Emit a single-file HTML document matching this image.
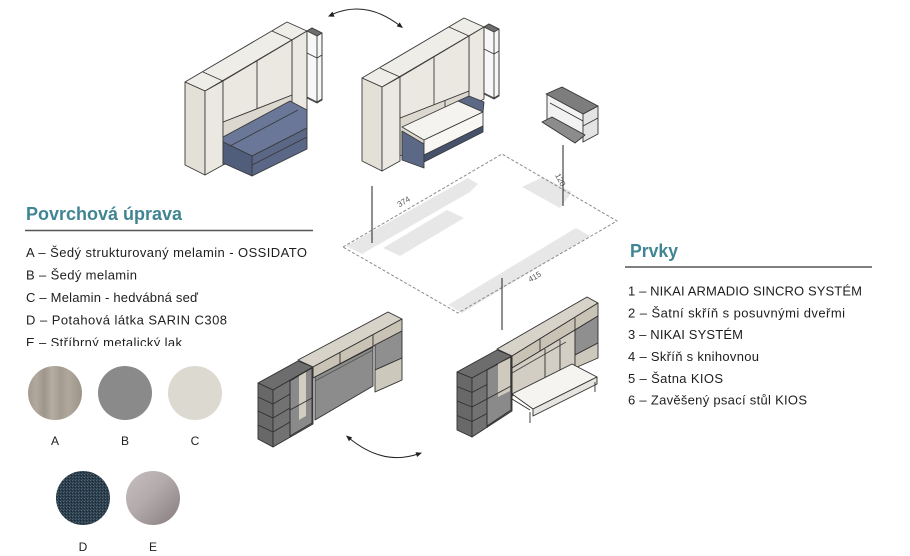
<!DOCTYPE html>
<html><head><meta charset="utf-8"><style>
html,body{margin:0;padding:0;background:#fff;}
svg{display:block;}
.t{font-family:"Liberation Sans",sans-serif;font-size:13px;fill:#1e1e1e;}
.h{font-family:"Liberation Sans",sans-serif;font-size:18px;font-weight:bold;fill:#3f8593;}
.l{font-family:"Liberation Sans",sans-serif;font-size:12px;fill:#1e1e1e;}
.d{font-family:"Liberation Sans",sans-serif;font-size:8px;fill:#555;}
</style></head><body>
<svg width="910" height="556" viewBox="0 0 910 556" xmlns="http://www.w3.org/2000/svg">
<defs>
  <linearGradient id="wood" x1="0" y1="0" x2="1" y2="0">
    <stop offset="0" stop-color="#a39a90"/><stop offset="0.15" stop-color="#b2a99e"/>
    <stop offset="0.3" stop-color="#9e958b"/><stop offset="0.45" stop-color="#b5ada2"/>
    <stop offset="0.6" stop-color="#a49b90"/><stop offset="0.75" stop-color="#b0a79c"/>
    <stop offset="1" stop-color="#9c9389"/>
  </linearGradient>
  <linearGradient id="silver" x1="0" y1="0" x2="1" y2="1">
    <stop offset="0" stop-color="#c7bfc0"/><stop offset="0.45" stop-color="#b3aaab"/>
    <stop offset="1" stop-color="#857b7d"/>
  </linearGradient>
  <pattern id="fab" width="3" height="3" patternUnits="userSpaceOnUse">
    <rect width="3" height="3" fill="#2c3e4c"/>
    <rect x="0" y="0" width="1" height="1" fill="#4f6876"/>
    <rect x="2" y="1" width="1" height="1" fill="#1b2833"/>
    <rect x="1" y="2" width="1" height="1" fill="#3f5766"/>
  </pattern>
  <clipPath id="clipE"><rect x="0" y="320" width="330" height="26"/></clipPath>
</defs>

<!-- ===== Headings & lists ===== -->
<text class="h" x="26" y="220" textLength="156" lengthAdjust="spacingAndGlyphs">Povrchová úprava</text>
<line x1="25" y1="230.5" x2="313" y2="230.5" stroke="#555" stroke-width="1.5"/>
<text class="t" x="26" y="257" textLength="281" lengthAdjust="spacing">A – Šedý strukturovaný melamin - OSSIDATO</text>
<text class="t" x="26" y="279.5" textLength="111" lengthAdjust="spacing">B – Šedý melamin</text>
<text class="t" x="26" y="302" textLength="172" lengthAdjust="spacing">C – Melamin - hedvábná seď</text>
<text class="t" x="26" y="324.5" textLength="201" lengthAdjust="spacing">D – Potahová látka SARIN C308</text>
<g clip-path="url(#clipE)"><text class="t" x="26" y="347" textLength="156" lengthAdjust="spacing">E – Stříbrný metalický lak</text></g>

<text class="h" x="630" y="257" textLength="48" lengthAdjust="spacingAndGlyphs">Prvky</text>
<line x1="625" y1="267" x2="872" y2="267" stroke="#555" stroke-width="1.5"/>
<text class="t" x="628" y="295.5" textLength="234" lengthAdjust="spacing">1 – NIKAI ARMADIO SINCRO SYSTÉM</text>
<text class="t" x="628" y="317.3" textLength="217" lengthAdjust="spacing">2 – Šatní skříň s posuvnými dveřmi</text>
<text class="t" x="628" y="339.2" textLength="115" lengthAdjust="spacing">3 – NIKAI SYSTÉM</text>
<text class="t" x="628" y="361" textLength="131" lengthAdjust="spacing">4 – Skříň s knihovnou</text>
<text class="t" x="628" y="382.8" textLength="95" lengthAdjust="spacing">5 – Šatna KIOS</text>
<text class="t" x="628" y="404.5" textLength="179" lengthAdjust="spacing">6 – Zavěšený psací stůl KIOS</text>

<!-- ===== Swatches ===== -->
<circle cx="55" cy="393" r="27" fill="url(#wood)"/>
<circle cx="125" cy="393" r="27" fill="#8a8a8a"/>
<circle cx="195" cy="393" r="27" fill="#dcd9d1"/>
<circle cx="83" cy="498" r="27" fill="url(#fab)"/>
<circle cx="153" cy="498" r="27" fill="url(#silver)"/>
<text class="l" x="55" y="445" text-anchor="middle">A</text>
<text class="l" x="125" y="445" text-anchor="middle">B</text>
<text class="l" x="195" y="445" text-anchor="middle">C</text>
<text class="l" x="83" y="551" text-anchor="middle">D</text>
<text class="l" x="153" y="551" text-anchor="middle">E</text>

<!-- ===== Arrows ===== -->
<g stroke="#222" stroke-width="1" fill="none">
  <path d="M333,14 Q366,0 399,25"/>
  <path d="M349,438 Q383,466 418,454"/>
</g>
<g fill="#222">
  <polygon points="328,16.5 334.5,16.8 332.5,11.6"/>
  <polygon points="403,28 396.7,26.4 399.7,22.4"/>
  <polygon points="346,435.5 352.2,437.4 349,441.2"/>
  <polygon points="422,452.7 417.1,457 415.5,452.2"/>
</g>

<!-- ===== Floor plan ===== -->
<g fill="#e7e7e7">
  <polygon points="346,246 468,178 478,184 470,192 362,254"/>
  <polygon points="383,248 447,210 464,218 400,256"/>
  <polygon points="522,187 543,177 572,192 560,208"/>
  <polygon points="448,305 576,228 590,236 462,313"/>
</g>
<polygon points="343,247 502,154 617,221 458,313" fill="none" stroke="#8a8a8a" stroke-width="1" stroke-dasharray="3,2"/>
<text class="d" transform="translate(405,204) rotate(-30)" text-anchor="middle">374</text>
<text class="d" transform="translate(558,181) rotate(62)" text-anchor="middle">120</text>
<text class="d" transform="translate(536,279) rotate(-30)" text-anchor="middle">415</text>
<g stroke="#222" stroke-width="1">
  <line x1="372" y1="186" x2="372" y2="243"/>
  <line x1="563" y1="145" x2="563" y2="206"/>
  <line x1="502" y1="278" x2="502" y2="330"/>
</g>

<!-- ===== Unit 1 (top-left) ===== -->
<g stroke="#3a3a3a" stroke-width="0.9" stroke-linejoin="round">
  <polygon points="185,82 287,22 307,31 205,91" fill="#efede8"/>
  <line x1="203" y1="72" x2="223" y2="81"/>
  <line x1="272" y1="31" x2="292" y2="40"/>
  <polygon points="185,82 205,91 205,175 185,165" fill="#e3e0d8"/>
  <polygon points="205,91 223,81 223,165 205,175" fill="#ebe8e1"/>
  <polygon points="292,40 307,31 307,128 292,137" fill="#ebe8e1"/>
  <polygon points="223,122 292,95 292,137 223,165" fill="#dcd8cf"/>
  <polygon points="223,81 292,40 292,95 223,122" fill="#ebe8e1"/>
  <line x1="257" y1="61" x2="257" y2="109"/>
  <polygon points="307,31 312,28 322,33 322,100 317,103 307,98" fill="#f7f7f7"/>
  <polygon points="307,31 312,28 322,33 317,36" fill="#6e6e6e"/>
  <polyline points="317,36 317,103" fill="none"/>
  <polyline points="322,33 322,100" fill="none"/>
  <polyline points="307,53 317,58 322,55" fill="none"/>
  <polyline points="307,97 317,102 322,99" fill="none"/>
  <polygon points="223,137 290,101 307,110 307,128 252,156 223,142" fill="#6a7798"/>
  <polygon points="252,156 307,128 307,149 252,176" fill="#5a6787"/>
  <polygon points="223,142 252,156 252,176 223,163" fill="#505d7b"/>
  <line x1="230" y1="146" x2="298" y2="110"/>
  <line x1="252" y1="165" x2="307" y2="137"/>
</g>

<!-- ===== Unit 2 (top-middle) ===== -->
<g transform="translate(177,-4)" stroke="#3a3a3a" stroke-width="0.9" stroke-linejoin="round">
  <polygon points="185,82 287,22 307,31 205,91" fill="#efede8"/>
  <line x1="203" y1="72" x2="223" y2="81"/>
  <line x1="272" y1="31" x2="292" y2="40"/>
  <polygon points="185,82 205,91 205,175 185,165" fill="#e3e0d8"/>
  <polygon points="205,91 223,81 223,165 205,175" fill="#ebe8e1"/>
  <polygon points="223,122 292,95 292,130 223,160" fill="#dcd8cf"/>
  <line x1="268" y1="104" x2="268" y2="119"/>
  <polygon points="292,40 307,31 307,103 292,111" fill="#ebe8e1"/>
  <polygon points="223,81 292,40 292,95 223,122" fill="#ebe8e1"/>
  <line x1="257" y1="61" x2="257" y2="109"/>
  <polygon points="307,31 312,28 322,33 322,100 317,103 307,98" fill="#f7f7f7"/>
  <polygon points="307,31 312,28 322,33 317,36" fill="#6e6e6e"/>
  <polyline points="317,36 317,103" fill="none"/>
  <polyline points="322,33 322,100" fill="none"/>
  <polyline points="307,53 317,58 322,55" fill="none"/>
  <polyline points="307,97 317,102 322,99" fill="none"/>
  <polygon points="281,105 292,100 307,106 306,116" fill="#5b6986"/>
  <polygon points="225,135 247,148 247,172 225,164" fill="#5b6986"/>
  <polygon points="225,131 281,105 306,116 247,144" fill="#f4f3ef"/>
  <polygon points="247,144 306,116 306,130 247,159" fill="#f8f7f4"/>
  <polygon points="247,159 306,130 306,136 247,166" fill="#46526c"/>
</g>

<!-- ===== Desk (unit 6) ===== -->
<g stroke="#333" stroke-width="0.9" stroke-linejoin="round">
  <polygon points="547,95 583,114 583,142 547,121" fill="#f2f2f2" stroke="none"/>
  <polygon points="583,114 598,106 598,134 583,142" fill="#e4e4e4"/>
  <polyline points="583,126 598,118" fill="none"/>
  <polyline points="547,95 547,121" fill="none"/>
  <polyline points="550,103 583,121" fill="none"/>
  <polygon points="542,122 552,117 585,135 575,143" fill="#8c8c8c"/>
  <polygon points="546,94 562,87 598,106 583,114" fill="#7d7d7d"/>
</g>

<!-- ===== Unit 3 (lower-left) ===== -->
<g stroke="#2f2f2f" stroke-width="0.9" stroke-linejoin="round">
  <polygon points="298,360 388,312 402,319 313,367" fill="#d8d3c9"/>
  <polygon points="313,367 402,319 402,331 313,378" fill="#c9c3b6"/>
  <line x1="340" y1="352.4" x2="340" y2="363.7"/>
  <line x1="373" y1="334.6" x2="373" y2="346"/>
  <polygon points="315,377 373,347 373,386 315,420" fill="#8c8c8c"/>
  <line x1="315" y1="381" x2="373" y2="350" stroke="#555"/>
  <polygon points="375,345 402,331 402,358 375,370" fill="#8f8f8f"/>
  <polygon points="375,370 402,358 402,380 375,392" fill="#cdc8bc"/>
  <polygon points="258,383 298,361 313,367 273,390" fill="#6d6d6d"/>
  <polygon points="258,383 273,390 273,447 258,439" fill="#686868"/>
  <polygon points="273,390 313,367 313,424 273,447" fill="#727272"/>
  <polygon points="290,381 312,368 312,423 290,436" fill="#8a8a8a"/>
  <polygon points="299,376 306,372 306,416 299,420" fill="#d3cdc1" stroke="none"/>
  <line x1="290" y1="381" x2="290" y2="437"/>
  <polyline points="258,397 273,404 290,394" fill="none"/>
  <polyline points="258,411 273,418 290,408" fill="none"/>
  <polyline points="258,425 273,432 290,422" fill="none"/>
  <line x1="290" y1="410" x2="312" y2="398"/>
</g>

<!-- ===== Unit 4 (lower-right) ===== -->
<g stroke="#2f2f2f" stroke-width="0.9" stroke-linejoin="round">
  <polygon points="497,349 587,297 598,303 512,356" fill="#d8d3c9"/>
  <polygon points="512,356 598,303 598,316 512,368" fill="#c9c3b6"/>
  <line x1="540" y1="339" x2="540" y2="351"/>
  <line x1="575" y1="318" x2="575" y2="330"/>
  <polygon points="512,368 575,330 575,366 512,396" fill="#d3cec3"/>
  <line x1="512" y1="373" x2="566" y2="342" stroke="#444"/>
  <line x1="545" y1="349" x2="545" y2="378"/>
  <line x1="560" y1="340" x2="560" y2="371"/>
  <polygon points="575,330 598,316 598,343 575,355" fill="#8f8f8f"/>
  <polygon points="575,355 598,343 598,358 575,368" fill="#cdc8bc"/>
  <polygon points="512,394 572,364 597,377 533,409" fill="#f5f4f1"/>
  <polygon points="533,409 597,377 597,384 533,416" fill="#e6e5e1"/>
  <polyline points="512,394 512,399 530,410" fill="none"/>
  <line x1="530" y1="412" x2="530" y2="423"/>
  <line x1="595" y1="382" x2="595" y2="392"/>
  <polygon points="457,372 497,350 512,356 472,378" fill="#6d6d6d"/>
  <polygon points="457,372 472,378 472,437 457,430" fill="#686868"/>
  <polygon points="472,378 512,356 512,411 472,437" fill="#727272"/>
  <polygon points="487,370 511,357 511,410 487,426" fill="#8a8a8a"/>
  <polygon points="498,364 510,358 510,391 498,397" fill="#d0cabe" stroke="none"/>
  <line x1="487" y1="370" x2="487" y2="428"/>
  <polyline points="457,386.5 472,392.5 487,384.5" fill="none"/>
  <polyline points="457,401 472,407 487,399" fill="none"/>
  <polyline points="457,415.5 472,421.5 487,413.5" fill="none"/>
  <line x1="487" y1="399" x2="511" y2="386"/>
</g>
</svg>
</body></html>
